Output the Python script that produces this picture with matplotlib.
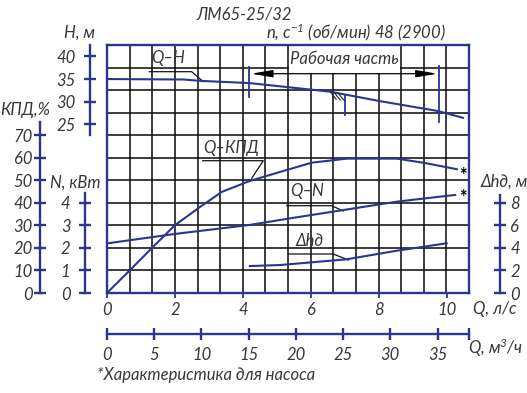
import numpy as np
import matplotlib
matplotlib.use('Agg')
import matplotlib.pyplot as plt
from matplotlib.patches import Rectangle

plt.rcParams['font.family'] = ['Lato', 'DejaVu Sans']
plt.rcParams['font.style'] = 'italic'
plt.rcParams['font.weight'] = 'normal'
plt.rcParams['mathtext.default'] = 'regular'

# ---------------- data ----------------
q_h = [0, 2.24, 2.74, 4.2, 5.32, 6.56, 8.03, 9.74, 10.47]          # Q, l/s
head = [35.0, 34.9, 34.6, 34.1, 33.2, 32.2, 30.1, 27.9, 26.4]       # H, m
q_eff = [0, 0.68, 1.31, 2.0, 2.74, 3.37, 4.2, 5.09, 6.02, 7.05, 8.52, 9.3, 10.29]
eff = [0, 10.2, 19.8, 30.1, 38.2, 44.8, 49.7, 53.7, 57.8, 59.6, 59.6, 57.8, 54.9]  # %
q_n = [0, 2.0, 4.2, 5.38, 6.95, 8.52, 10.24]
power = [2.20, 2.62, 3.02, 3.31, 3.68, 4.05, 4.35]                  # kW
q_dh = [4.2, 5.09, 7.05, 8.52, 9.99]
npsh = [2.39, 2.48, 2.99, 3.75, 4.41]                                # m
q_work = [4.19, 9.77]      # working range, l/s
q_opt = 7.0                # optimum point, l/s

q_ls_ticks = [0, 2, 4, 6, 8, 10]
q_m3_ticks = [0, 5, 10, 15, 20, 25, 30, 35]
h_ticks = [25, 30, 35, 40]
eff_ticks = [0, 10, 20, 30, 40, 50, 60, 70]
n_ticks = [0, 1, 2, 3, 4]
dh_ticks = [0, 2, 4, 6, 8]

title1 = "ЛМ65-25/32"
title2 = "n, с$^{-1}$ (об/мин) 48 (2900)"
footnote = "*Характеристика для насоса"

BLUE = '#2b3590'
TXT = '#383838'
FS = 12

W_PX, H_PX = 527, 393
fig = plt.figure(figsize=(W_PX / 100, H_PX / 100), dpi=100)
AX_L, AX_R, AX_T, AX_B = 107, 469, 45, 293
ax = fig.add_axes([AX_L / W_PX, 1 - AX_B / H_PX, (AX_R - AX_L) / W_PX, (AX_B - AX_T) / H_PX])

QMAX = (AX_R - AX_L) / 34.0
NCOL, NROW = 16, 11
ax.set_xlim(0, QMAX)
ax.set_ylim(0, NROW * 10)
ax.set_xticks(np.linspace(0, QMAX, NCOL + 1), minor=True)
ax.set_yticks(np.arange(0, NROW * 10 + 1, 10), minor=True)
ax.set_yticks([])
ax.set_xticks(q_ls_ticks)
ax.set_xticklabels([str(v) for v in q_ls_ticks])
ax.grid(which='minor', color='#111111', lw=1.15)
ax.tick_params(which='minor', length=0)
ax.tick_params(axis='x', which='major', direction='out', length=3.5, width=1.3,
               color=BLUE, labelsize=FS, labelcolor=TXT, pad=3)
for s in ax.spines.values():
    s.set_color(BLUE)
    s.set_linewidth(1.7)
    s.set_zorder(3)
ax.set_axisbelow(True)


def fx(x):  # pixel -> axes fraction
    return (x - AX_L) / (AX_R - AX_L)


def fy(y):
    return (AX_B - y) / (AX_B - AX_T)


def side_axis(ylim, side, pos_px, bounds, ticks, pad):
    a = ax.twinx()
    a.set_ylim(*ylim)
    for k, s in a.spines.items():
        s.set_visible(k == side)
    sp = a.spines[side]
    sp.set_position(('axes', fx(pos_px)))
    sp.set_bounds(*bounds)
    sp.set_color(BLUE)
    sp.set_linewidth(1.7)
    if side == 'left':
        a.yaxis.tick_left()
    else:
        a.yaxis.tick_right()
    a.set_yticks(ticks)
    a.set_yticklabels([str(t) for t in ticks])
    a.tick_params(axis='y', direction='inout', length=8, width=1.7, color=BLUE,
                  labelsize=FS, labelcolor=TXT, pad=pad)
    return a


H0 = 35 - 9.49 * 5
ax_eff = side_axis((0, 110), 'left', 40, (0, 75.8), eff_ticks, 1.5)
ax_n = side_axis((0, 11), 'left', 85, (0, 4.43), n_ticks, 6.5)
ax_h = side_axis((H0, H0 + 55), 'left', 90, (22.7, H0 + 55), h_ticks, 6.5)
ax_dh = side_axis((0, 22), 'right', 500.5, (0, 8.7), dh_ticks, 3)

# m3/h axis
ax_m3 = ax.twiny()
ax_m3.set_xlim(0, QMAX * 3.6)
for k, s in ax_m3.spines.items():
    s.set_visible(k == 'bottom')
spb = ax_m3.spines['bottom']
spb.set_position(('axes', fy(334)))
spb.set_bounds(0, QMAX * 3.6)
spb.set_color(BLUE)
spb.set_linewidth(1.7)
ax_m3.xaxis.tick_bottom()
ax_m3.set_xticks(q_m3_ticks + [QMAX * 3.6])
ax_m3.set_xticklabels([str(v) for v in q_m3_ticks] + [''])
ax_m3.tick_params(axis='x', direction='inout', length=9, width=1.7, color=BLUE,
                  labelsize=FS, labelcolor=TXT, pad=5)

# working range box
cw = QMAX / NCOL
y_arrow = fy(73.7) * 110
ax.add_patch(Rectangle((8 * cw + 0.04, y_arrow), 5 * cw - 0.08, 110 - y_arrow - 0.6,
                       facecolor='white', edgecolor='none', zorder=1))
ax.text(10.5 * cw, 104.0, "Рабочая часть", ha='center', va='center', fontsize=FS,
        color=TXT, zorder=4)
ax.annotate('', xy=(q_work[0] + 0.05, y_arrow), xytext=(q_work[1] - 0.05, y_arrow),
            arrowprops=dict(arrowstyle='<|-|>,head_length=1.3,head_width=0.22',
                            color='black', lw=0.9, shrinkA=0, shrinkB=0,
                            mutation_scale=10), zorder=4)

# curves
ax_h.plot(q_h, head, color=BLUE, lw=1.5, zorder=3)
ax_eff.plot(q_eff, eff, color=BLUE, lw=1.5, zorder=3)
ax_n.plot(q_n, power, color=BLUE, lw=1.5, zorder=3)
ax_dh.plot(q_dh, npsh, color=BLUE, lw=1.5, zorder=3)

# working range markers
ax.plot([q_work[0]] * 2, [fy(97) * 110, fy(67) * 110], color=BLUE, lw=1.3, zorder=3)
ax.plot([q_work[1]] * 2, [fy(121.7) * 110, fy(66) * 110], color=BLUE, lw=1.3, zorder=3)

# optimum mark with hatch
h_opt = float(np.interp(q_opt, q_h, head))
ax_h.plot([q_opt, q_opt], [h_opt, h_opt - 4.6], color=BLUE, lw=1.3, zorder=3)
for d in [0.42, 0.3, 0.18]:
    x0 = q_opt - d
    y0 = float(np.interp(x0, q_h, head)) - 0.15
    ax_h.plot([x0, x0 + 0.16], [y0, y0 - 1.5], color='#222222', lw=0.8, zorder=3)

# curve labels with leaders
def leader(pts):
    xs = [fx(p[0]) for p in pts]
    ys = [fy(p[1]) for p in pts]
    ax.plot(xs, ys, transform=ax.transAxes, color='#111111', lw=0.9, zorder=3)

leader([(149.3, 71.7), (191.7, 71.7), (203.3, 81.7)])
leader([(202.7, 160.7), (263.3, 160.7), (251.7, 178.3)])
leader([(286.7, 205.7), (331.7, 205.7), (343.3, 211)])
leader([(288.3, 254), (333.3, 254), (348.3, 260)])

def ptext(x, y, s, **kw):
    kw.setdefault('fontsize', FS)
    kw.setdefault('color', TXT)
    fig.text(x / W_PX, 1 - y / H_PX, s, ha=kw.pop('ha', 'center'), va=kw.pop('va', 'center'), **kw)

ptext(168, 58, "Q–H")
ptext(231.5, 147.5, "Q–КПД")
ptext(306.7, 191.5, "Q–N")
ptext(310, 241, "Δhд")
ptext(463, 175, "*", color='black', fontsize=13, fontweight='bold', fontstyle='normal')
ptext(463, 197, "*", color='black', fontsize=13, fontweight='bold', fontstyle='normal')

ptext(244, 15, title1)
ptext(356, 32, title2)
ptext(80, 32.5, "H, м")
ptext(25, 110, "КПД,%")
ptext(75, 183, "N, кВт")
ptext(504, 181.5, "Δhд, м")
ptext(495, 309, "Q, л/с")
ptext(496, 348, "Q, м$^3$/ч")
ptext(206, 375, footnote)

fig.savefig('out.png', dpi=100)
